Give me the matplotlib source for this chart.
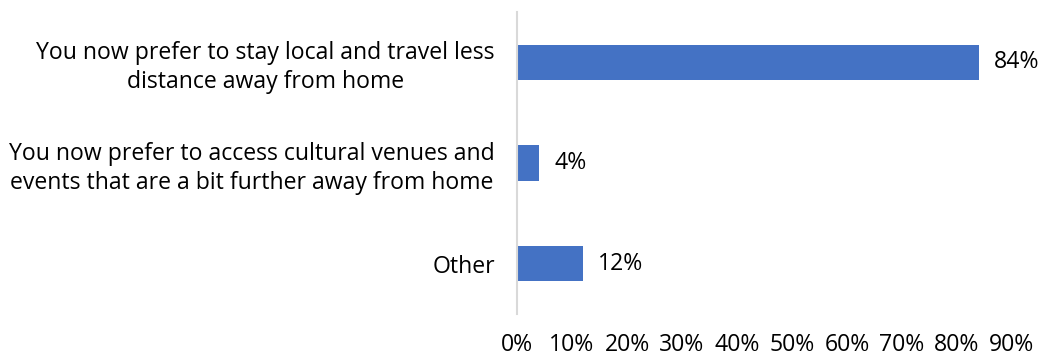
import matplotlib
matplotlib.use("Agg")
import matplotlib.pyplot as plt
from matplotlib.ticker import PercentFormatter

categories = [
    "You now prefer to stay local and travel less\ndistance away from home",
    "You now prefer to access cultural venues and\nevents that are a bit further away from home",
    "Other",
]
values = [0.84, 0.04, 0.12]
value_labels = ["84%", "4%", "12%"]
x_ticks = [0.0, 0.1, 0.2, 0.3, 0.4, 0.5, 0.6, 0.7, 0.8, 0.9]

plt.rcParams["font.family"] = ["Open Sans", "DejaVu Sans"]

W, H = 1047, 356
fig = plt.figure(figsize=(W / 100, H / 100), dpi=100)
ax = fig.add_axes([517 / W, 1 - 314 / H, (1012 - 517) / W, (314 - 12) / H])

bar_color = "#4472C4"
text_color = "#000000"
fs = 16.6
ypos = list(range(len(categories)))
ax.barh(ypos, values, height=0.35, color=bar_color)

for y, v, lab in zip(ypos, values, value_labels):
    ax.annotate(lab, (v, y), xytext=(11, 0), textcoords="offset points",
                ha="left", va="center", fontsize=fs, color=text_color)

ax.set_xlim(0, 0.9)
ax.set_ylim(len(categories) - 0.5, -0.5)
ax.set_yticks(ypos)
ax.set_yticklabels(categories)
ax.set_xticks(x_ticks)
ax.xaxis.set_major_formatter(PercentFormatter(1.0, decimals=0))

for lbl in ax.get_yticklabels():
    lbl.set_multialignment("center")
    lbl.set_fontsize(fs)
    lbl.set_color(text_color)
    lbl.set_linespacing(1.28)
for lbl in ax.get_xticklabels():
    lbl.set_fontsize(fs)
    lbl.set_color(text_color)

ax.tick_params(axis="both", length=0)
ax.tick_params(axis="y", pad=16)
ax.tick_params(axis="x", pad=14)

for side in ["top", "right", "bottom"]:
    ax.spines[side].set_visible(False)
ax.spines["left"].set_color("#D9D9D9")
ax.spines["left"].set_linewidth(1.5)

fig.savefig("out.png", dpi=100)
